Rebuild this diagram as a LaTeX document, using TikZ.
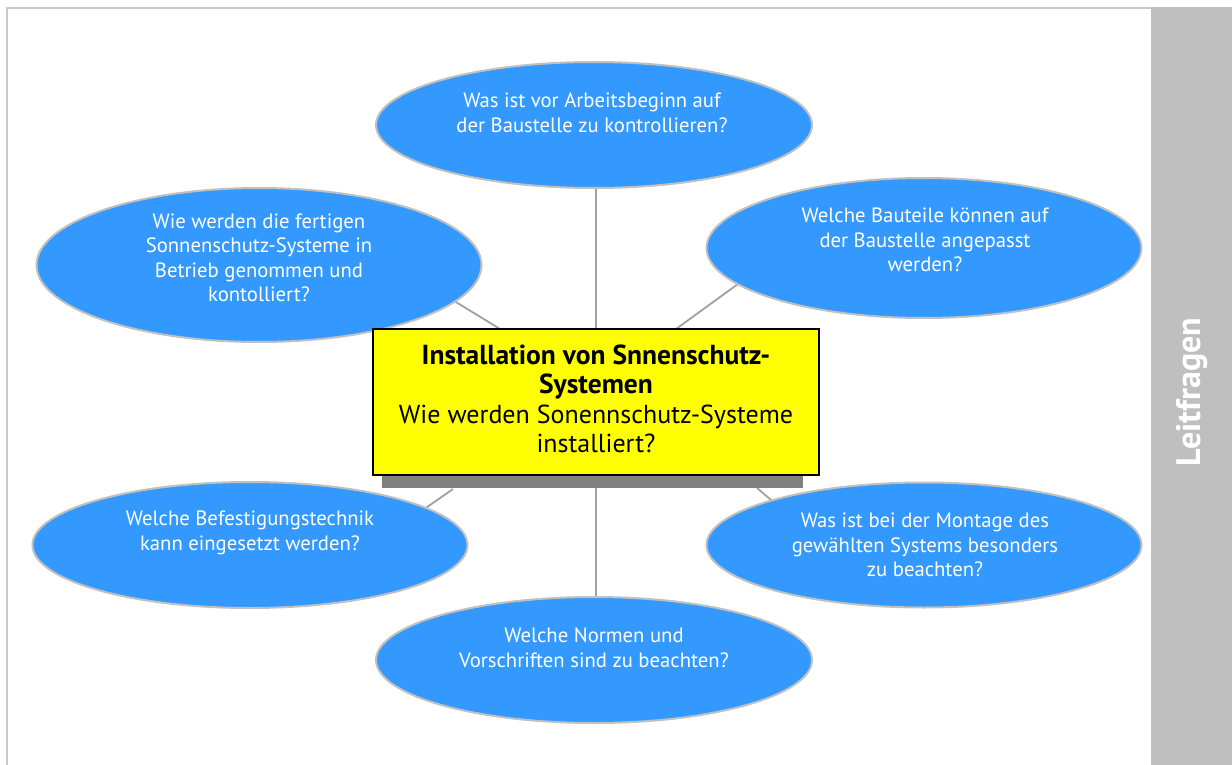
\documentclass[tikz,border=0pt]{standalone}
\usepackage{fontspec}
\setmainfont{PT Sans}
\usetikzlibrary{shapes.geometric}
\definecolor{ellblue}{HTML}{3399FF}
\definecolor{ellrim}{HTML}{C0C0C0}
\definecolor{framegray}{HTML}{C8C8C8}
\definecolor{sidegray}{HTML}{BFBFBF}
\definecolor{shadowgray}{HTML}{808080}
\definecolor{linegray}{HTML}{A0A0A0}
\definecolor{boxyellow}{HTML}{FFFF00}
\tikzset{
  qell/.style={ellipse, fill=ellblue, draw=ellrim, line width=2pt, inner sep=0pt},
  qtext/.style={text=white, align=center, font=\fontsize{20.7}{24.5}\selectfont, inner sep=0pt},
  conn/.style={draw=linegray, line width=1.8pt},
  hubbox/.style={rectangle, fill=boxyellow, draw=black, line width=1.5pt, minimum width=446pt, minimum height=146pt, inner sep=0pt},
}
\begin{document}
\begin{tikzpicture}[x=1pt,y=-1pt]
\useasboundingbox (0,0) rectangle (1232,765);
% frame and sidebar
\fill[sidegray] (1151,7) rectangle (1232,765);
\draw[framegray, line width=2pt] (7,765) -- (7,8) -- (1151,8);
\node[rotate=90, text=white, font=\fontsize{34}{38}\selectfont\bfseries, inner sep=0pt] (side) at (1192,392) {Leitfragen};
% connector anchor points
\coordinate (a1) at (596,402);
\coordinate (a2) at (500,329);
\coordinate (a3) at (676,329);
\coordinate (a4) at (453,489);
\coordinate (a5) at (596,488);
\coordinate (a6) at (757,488);
\coordinate (b1) at (596,160);
\coordinate (b2) at (420,280);
\coordinate (b3) at (760,268);
\coordinate (b4) at (400,526);
\coordinate (b5) at (596,630);
\coordinate (b6) at (790,516);
\draw[conn] (a1) -- (b1);
\draw[conn] (a2) -- (b2);
\draw[conn] (a3) -- (b3);
\draw[conn] (a4) -- (b4);
\draw[conn] (a5) -- (b5);
\draw[conn] (a6) -- (b6);
% ellipses
\node[qell, minimum width=436pt, minimum height=126pt] (e1) at (594,125) {};
\node[qell, minimum width=445pt, minimum height=154pt] (e2) at (259,265) {};
\node[qell, minimum width=435pt, minimum height=140pt] (e3) at (924,248) {};
\node[qell, minimum width=435pt, minimum height=126pt] (e4) at (250,545) {};
\node[qell, minimum width=435pt, minimum height=125pt] (e5) at (924,545) {};
\node[qell, minimum width=436pt, minimum height=126pt] (e6) at (594,660) {};
% ellipse texts
\node[qtext] (t1) at (592,113) {Was ist vor Arbeitsbeginn auf\\der Baustelle zu kontrollieren?};
\node[qtext] (t2) at (259,258) {Wie werden die fertigen\\Sonnenschutz-Systeme in\\Betrieb genommen und\\kontolliert?};
\node[qtext] (t3) at (925,240) {Welche Bauteile können auf\\der Baustelle angepasst\\werden?};
\node[qtext] (t4) at (250,533) {Welche Befestigungstechnik\\kann eingesetzt werden?};
\node[qtext] (t5) at (925,545) {Was ist bei der Montage des\\gewählten Systems besonders\\zu beachten?};
\node[qtext] (t6) at (594,648) {Welche Normen und\\Vorschriften sind zu beachten?};
% center box
\fill[shadowgray] (382,475) rectangle (803,488);
\node[hubbox] (hub) at (596,402) {};
\node[align=center, inner sep=0pt, font=\fontsize{26}{29.5}\selectfont] (hubtext) at (596,399)
  {{\fontsize{27.5}{29.5}\selectfont\bfseries Installation von Snnenschutz-}\\{\fontsize{27.5}{29.5}\selectfont\bfseries Systemen}\\Wie werden Sonennschutz-Systeme\\installiert?};
\end{tikzpicture}
\end{document}
